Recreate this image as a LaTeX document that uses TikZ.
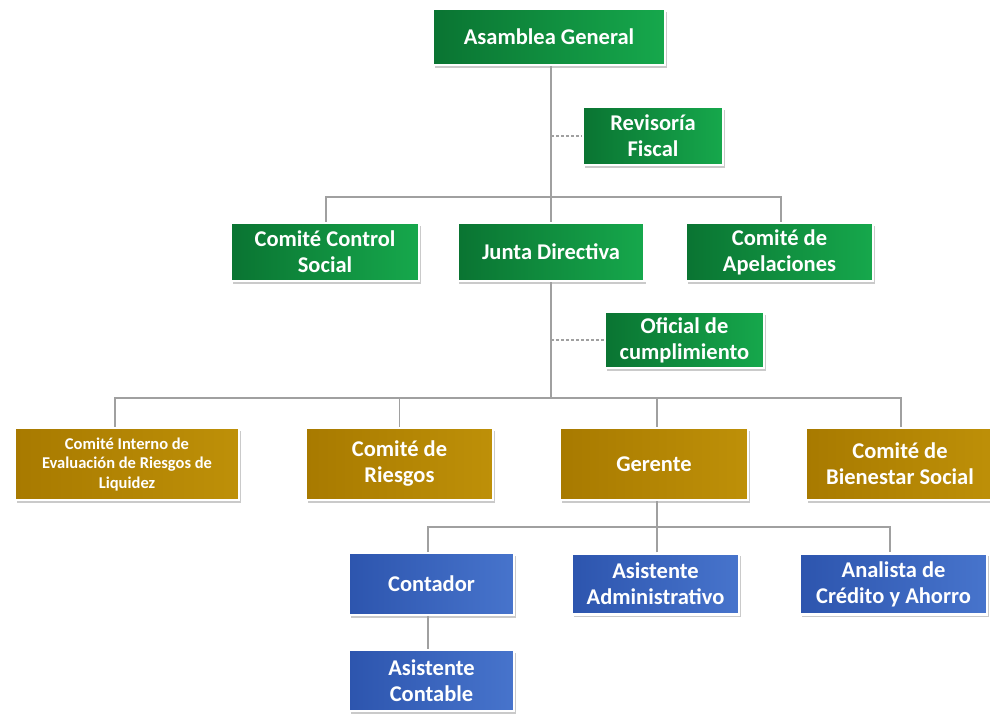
\documentclass[tikz,border=0pt]{standalone}
\usepackage{fontspec}
\setmainfont{Carlito}
\usetikzlibrary{shadows,calc}
\definecolor{gA}{HTML}{0A7432}
\definecolor{gB}{HTML}{16A84C}
\definecolor{oA}{HTML}{A87A00}
\definecolor{oB}{HTML}{BE9008}
\definecolor{bA}{HTML}{2D55AE}
\definecolor{bB}{HTML}{4774CC}
\definecolor{lineg}{HTML}{A0A0A0}
\tikzset{
  orgbox/.style={rectangle, draw=white, line width=2.2pt, text=white,
    font=\bfseries\fontsize{22.5}{26}\selectfont, align=center, inner sep=0pt,
    drop shadow={shadow xshift=1.5pt, shadow yshift=-2.5pt, opacity=0.35, fill=black!60}},
  greenbox/.style={orgbox, left color=gA, right color=gB},
  goldbox/.style={orgbox, left color=oA, right color=oB},
  bluebox/.style={orgbox, left color=bA, right color=bB},
  link/.style={draw=lineg, line width=1.4pt},
  dlink/.style={draw=lineg, line width=1.4pt, dash pattern=on 3pt off 2pt}
}
\begin{document}
\begin{tikzpicture}[x=1pt,y=-1pt]
\useasboundingbox (0,0) rectangle (990,713);
% nodes
\node[greenbox, minimum width=232, minimum height=56] (ag) at (549,37) {Asamblea General};
\node[greenbox, minimum width=140, minimum height=58] (rf) at (653,136) {Revisoría\\Fiscal};
\node[greenbox, minimum width=188, minimum height=58] (ccs) at (325,252) {Comité Control\\Social};
\node[greenbox, minimum width=187, minimum height=58] (jd) at (551,252) {Junta Directiva};
\node[greenbox, minimum width=187, minimum height=58] (ca) at (779.5,252) {Comité de\\Apelaciones};
\node[greenbox, minimum width=159, minimum height=56] (oc) at (684.5,340) {Oficial de\\cumplimiento};
\node[goldbox, minimum width=224, minimum height=72, font=\bfseries\fontsize{16.5}{19.5}\selectfont] (cie) at (127,464) {Comité Interno de\\Evaluación de Riesgos de\\Liquidez};
\node[goldbox, minimum width=187, minimum height=72] (cr) at (399.5,464) {Comité de\\Riesgos};
\node[goldbox, minimum width=188, minimum height=72] (ger) at (654,464) {Gerente};
\node[goldbox, minimum width=188, minimum height=72] (cbs) at (900,464) {Comité de\\Bienestar Social};
\node[bluebox, minimum width=165, minimum height=62] (cont) at (431.5,584) {Contador};
\node[bluebox, minimum width=167, minimum height=61] (aa) at (655.5,584) {Asistente\\Administrativo};
\node[bluebox, minimum width=187, minimum height=61] (acd) at (893.5,584) {Analista de\\Crédito y Ahorro};
\node[bluebox, minimum width=165, minimum height=61] (acon) at (431.5,680.5) {Asistente\\Contable};
% junction coordinates
\coordinate (b1) at (551,197);
\coordinate (b2) at (551,398);
\coordinate (b3) at (657,527);
% connectors
\draw[link] (ag.south -| b1) -- (jd.north -| b1);
\draw[link] ([xshift=1pt]ccs.north) -- ([xshift=1pt]ccs.north |- b1) -- ([xshift=1.5pt]ca.north |- b1) -- ([xshift=1.5pt]ca.north);
\draw[dlink] (rf.west -| b1) -- (rf.west);
\draw[link] (jd.south -| b2) -- (b2);
\draw[dlink] (oc.west -| b2) -- (oc.west);
\draw[link] ([xshift=-12pt]cie.north) -- ([xshift=-12pt]cie.north |- b2) -- ([xshift=1pt]cbs.north |- b2) -- ([xshift=1pt]cbs.north);
\draw[link] (cr.north |- b2) -- (cr.north);
\draw[link] ([xshift=3pt]ger.north |- b2) -- ([xshift=3pt]ger.north);
\draw[link] (ger.south -| b3) -- (b3);
\draw[link] ([xshift=-3.5pt]cont.north) -- ([xshift=-3.5pt]cont.north |- b3) -- ([xshift=-3.5pt]acd.north |- b3) -- ([xshift=-3.5pt]acd.north);
\draw[link] (aa.north -| b3) -- (b3);
\draw[link] ([xshift=-3.5pt]cont.south) -- ([xshift=-3.5pt]acon.north);
\end{tikzpicture}
\end{document}
